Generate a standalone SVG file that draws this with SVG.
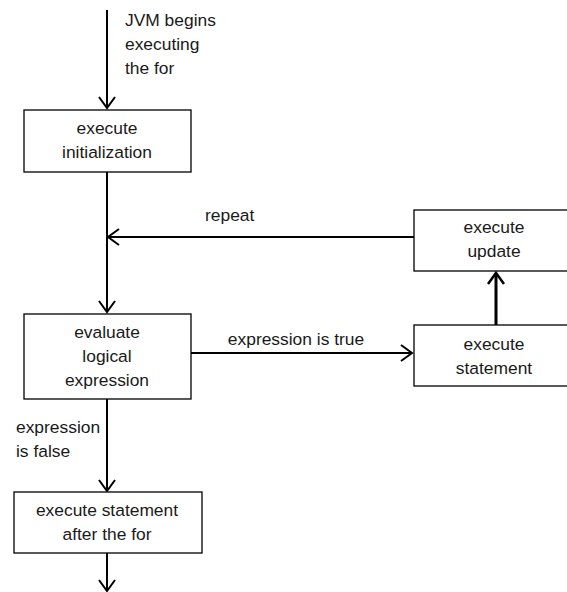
<svg xmlns="http://www.w3.org/2000/svg" width="567" height="592" viewBox="0 0 567 592">
<style>
.box{fill:#fff;stroke:#000;stroke-width:1.3}
.t{font-family:"Liberation Sans",Arial,sans-serif;font-size:17.4px;fill:#1a1a1a}
.c{text-anchor:middle}
.ln{stroke:#000;stroke-width:2;fill:none}
.hd{stroke:#000;stroke-width:2;fill:none;stroke-linejoin:miter}
</style>
<rect width="567" height="592" fill="#fff"/>
<g id="connectors">
<line class="ln" x1="107" y1="10" x2="107" y2="108"/>
<polyline class="hd" points="99,97 107,108 115,97"/>
<line class="ln" x1="107" y1="172" x2="107" y2="312"/>
<polyline class="hd" points="99,301 107,312 115,301"/>
<line class="ln" x1="414" y1="237" x2="108" y2="237"/>
<polyline class="hd" points="119,229 108,237 119,245"/>
<line class="ln" x1="191" y1="353" x2="412" y2="353"/>
<polyline class="hd" points="401,345 412,353 401,361"/>
<line class="ln" x1="496" y1="325" x2="496" y2="273" style="stroke-width:3"/>
<polyline class="hd" points="488,284 496,273 504,284" style="stroke-width:2.5"/>
<line class="ln" x1="107" y1="398" x2="107" y2="491"/>
<polyline class="hd" points="99,480 107,491 115,480"/>
<line class="ln" x1="107" y1="553" x2="107" y2="591"/>
<polyline class="hd" points="99,580 107,591 115,580"/>
<text class="t" x="125" y="26">JVM begins</text>
<text class="t" x="125" y="50">executing</text>
<text class="t" x="125" y="74">the for</text>
<text class="t" x="205" y="221">repeat</text>
<text class="t c" x="296" y="345">expression is true</text>
<text class="t" x="16" y="433">expression</text>
<text class="t" x="16" y="457">is false</text>
</g>
<g id="init">
<rect class="box" x="24" y="110" width="167" height="62"/>
<text class="t c" x="107" y="134">execute</text>
<text class="t c" x="107" y="158">initialization</text>
</g>
<g id="update">
<rect class="box" x="414" y="210" width="160" height="61"/>
<text class="t c" x="494" y="233">execute</text>
<text class="t c" x="494" y="257">update</text>
</g>
<g id="evaluate">
<rect class="box" x="24" y="314" width="167" height="85"/>
<text class="t c" x="107" y="338">evaluate</text>
<text class="t c" x="107" y="362">logical</text>
<text class="t c" x="107" y="386">expression</text>
</g>
<g id="statement">
<rect class="box" x="414" y="325" width="160" height="61"/>
<text class="t c" x="494" y="350">execute</text>
<text class="t c" x="494" y="374">statement</text>
</g>
<g id="after">
<rect class="box" x="14" y="492" width="188" height="61"/>
<text class="t c" x="107" y="516">execute statement</text>
<text class="t c" x="107" y="540">after the for</text>
</g>
</svg>
